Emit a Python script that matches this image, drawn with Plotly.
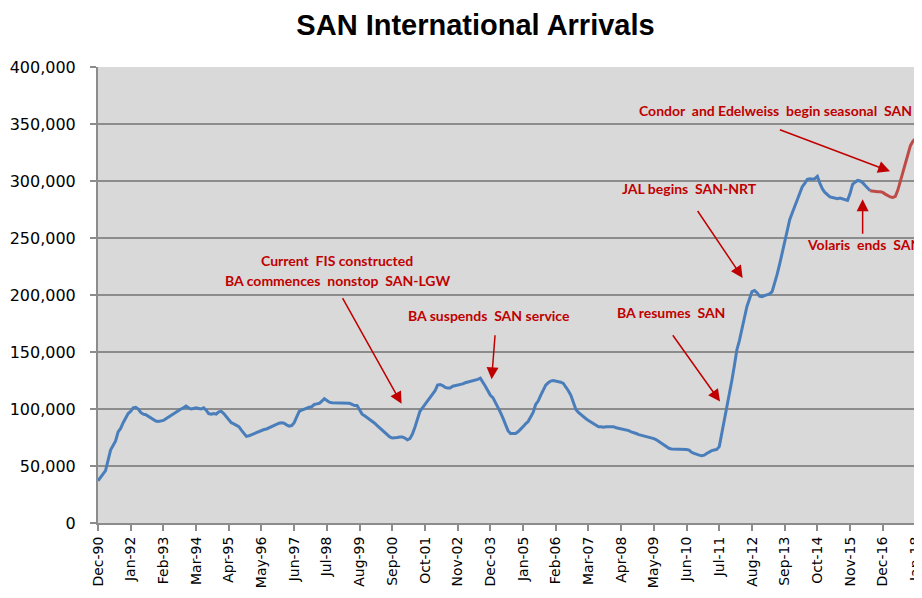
import pandas as pd
import plotly.graph_objects as go

# monthly labels Dec-90 .. Mar-18 (category axis, as in the Excel original)
months = [d.strftime('%b-%y') for d in pd.date_range('1990-12-01', '2018-03-01', freq='MS')]
tick_labels = months[::13]

# international arrivals, monthly
blue_vals = [37000,
    40000, 43000, 46000, 55000, 64000, 68000, 72000, 80000, 83000, 88000, 92000, 96000,
    98000, 101000, 101500, 100000, 97000, 95500, 95000, 93500, 92000, 90500, 89500, 89000,
    89500, 90000, 91500, 93000, 94500, 96000, 97500, 99000, 100000, 101000, 102500, 101000,
    100000, 100500, 101000, 100500, 100000, 101000, 99000, 96000, 95500, 96000, 95500, 97500,
    98000, 96000, 93000, 90000, 88000, 87000, 86000, 84500, 81500, 79000, 76000, 76500,
    77500, 78500, 79500, 80000, 81000, 82000, 82500, 83500, 85000, 86000, 86500, 87500,
    88000, 87500, 86000, 85000, 85500, 88000, 93000, 98000, 99000, 100000, 100500, 101500,
    102000, 104000, 104500, 105000, 107000, 109000, 107500, 106000, 105500, 105500, 105500, 105500,
    105500, 105500, 105000, 105000, 104000, 103000, 103000, 99000, 95500, 94000, 92500, 90500,
    89000, 87500, 85500, 83500, 81500, 79500, 77500, 75500, 74500, 74500, 75000, 75500,
    75500, 74500, 73000, 74000, 78000, 84000, 91000, 98000, 101000, 104000, 106500, 109000,
    112000, 116000, 121000, 121500, 120500, 119000, 118500, 118500, 120000, 120500, 121000, 121000,
    122000, 123000, 123500, 124000, 124500, 125000, 126000, 127000, 124000, 120000, 116000, 112000,
    110000, 106000, 102000, 97000, 92000, 86000, 81000, 78500, 78500, 78500, 80000, 82000,
    84500, 87000, 89000, 93000, 97000, 104000, 107000, 112000, 117000, 121000, 123000, 124500,
    125000, 124500, 124500, 123500, 122500, 119500, 116000, 112000, 106000, 99500, 97000, 95000,
    93500, 91500, 90000, 88500, 87000, 85500, 84500, 84500, 84000, 84500, 84500, 85000,
    84500, 83500, 83000, 82500, 82500, 82000, 81000, 80000, 79500, 78500, 77500, 77000,
    76500, 75500, 75000, 74500, 74000, 73000, 71500, 70000, 68500, 66500, 65500, 65000,
    65000, 65000, 65000, 65000, 65000, 64500, 64000, 62000, 61000, 60000, 59500, 59000,
    59500, 61000, 62500, 63500, 64000, 64500, 67000, 78000, 90000, 100000, 112000, 125000,
    138000, 152000, 160000, 169000, 180000, 190000, 197000, 203000, 204000, 202000, 199000, 198500,
    199500, 200500, 201000, 203000, 210000, 218000, 227000, 237000, 248000, 258000, 266000, 272000,
    278000, 284000, 290000, 295000, 298000, 301500, 302000, 301500, 302000, 304000, 298000, 293000,
    290000, 288000, 286000, 285500, 285000, 284500, 285000, 284500, 284000, 283000, 289000, 297000,
    299000, 300500, 300000, 298500, 296000, 293500, 291500]
red_vals = [291500, 291000, 290500, 290500, 290500, 290000,
    288500, 287000, 286000, 285500, 286500, 292000, 300000, 308000, 316000, 324000, 331000, 335000,
    337000, 337500, 337500]

blue_x = months[:len(blue_vals)]
red_x = months[len(blue_vals) - 1:len(blue_vals) - 1 + len(red_vals)]

# annotation texts: (text, month index, y, anchor)
notes = [
    ('Current  FIS constructed', 95.2, 230000, 'center'),
    ('BA commences  nonstop  SAN-LGW', 95.2, 213000, 'center'),
    ('BA suspends  SAN service', 155.5, 182000, 'center'),
    ('BA resumes  SAN', 227.8, 185000, 'center'),
    ('JAL begins  SAN-NRT', 235, 293500, 'center'),
    ('Condor  and Edelweiss  begin seasonal  SAN', 214.3, 362000, 'left'),
    ('Volaris  ends  SAN', 281, 244000, 'left'),
]
# arrows: (tail m, tail y, head m, head y)
arrows = [
    (96.9, 198500, 120.7, 104500),
    (157.9, 166000, 156.5, 126000),
    (228.1, 166000, 247.3, 106500),
    (238.0, 275000, 256.3, 215000),
    (270.5, 345500, 314.9, 308500),
    (304.0, 252500, 304.0, 284000),
]

red_txt = '#C00000'

fig = go.Figure()
fig.add_trace(go.Scatter(x=blue_x, y=blue_vals, mode='lines',
                         line=dict(color='#4A7EBB', width=3), showlegend=False))
fig.add_trace(go.Scatter(x=red_x, y=red_vals, mode='lines',
                         line=dict(color='#BE4B48', width=3), showlegend=False))

for txt, mx, yy, anc in notes:
    fig.add_annotation(x=mx, y=yy, xref='x', yref='y', text='<b>' + txt + '</b>', showarrow=False,
                       xanchor=anc, font=dict(family='Lato', size=14, color=red_txt))
for tx, ty, hx, hy in arrows:
    fig.add_annotation(x=hx, y=hy, ax=tx, ay=ty, xref='x', yref='y', axref='x', ayref='y',
                       text='', showarrow=True, arrowhead=2, arrowsize=1.6, arrowwidth=1.5,
                       arrowcolor='#C00000')

# page body has an 8px margin, so the figure is 914x582 and offset accordingly
fig.update_layout(
    width=914, height=582,
    margin=dict(l=90, r=0, t=59, b=67),
    paper_bgcolor='white', plot_bgcolor='#D9D9D9',
    title=dict(text='<b>SAN International Arrivals</b>', x=0.5115, xanchor='center',
               y=0.9708, yanchor='middle',
               font=dict(family='Liberation Sans, Arial', size=29, color='black')),
    xaxis=dict(type='category', categoryarray=months, range=[0, 327.6], automargin=False,
               tickmode='array', tickvals=tick_labels, ticktext=tick_labels,
               tickangle=-90, ticks='outside', ticklen=6, tickwidth=1.5, tickcolor='#8C8C8C',
               showgrid=False, showline=True, linecolor='#8C8C8C', linewidth=2,
               tickfont=dict(family='DejaVu Sans', size=14, color='black')),
    yaxis=dict(range=[0, 400000], tickvals=list(range(0, 400001, 50000)), automargin=False,
               tickformat=',d', ticks='outside', ticklen=6, tickwidth=1.5, tickcolor='#8C8C8C',
               showgrid=True, gridcolor='#8C8C8C', gridwidth=1.5, zeroline=False,
               showline=True, linecolor='#8C8C8C', linewidth=2, ticklabelstandoff=11,
               tickfont=dict(family='DejaVu Sans', size=16, color='black')),
)

fig.write_html('out.html')
